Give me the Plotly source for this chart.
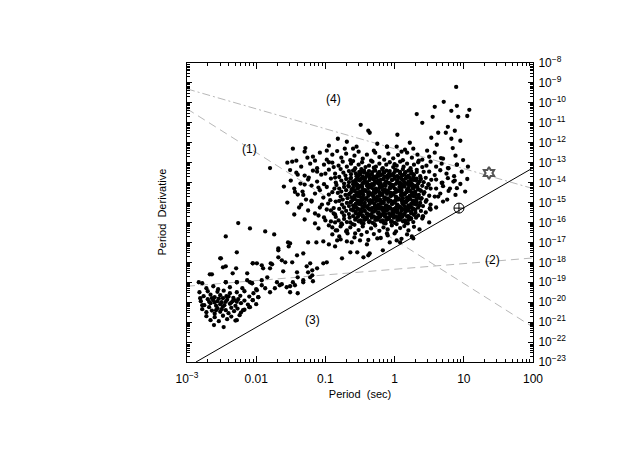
import plotly.graph_objects as go

# (log10 P [s], log10 Pdot)
msp_points = [
    (-2.83, -19.00), (-2.78, -19.05), (-2.72, -19.30), (-2.62, -19.20), (-2.55, -19.35), (-2.44, -19.00),
    (-2.38, -19.25), (-2.28, -19.00), (-2.20, -19.30), (-2.13, -18.90), (-2.06, -19.05), (-2.00, -19.35),
    (-2.82, -19.50), (-2.76, -19.70), (-2.70, -19.45), (-2.66, -19.62), (-2.60, -19.75), (-2.56, -19.48),
    (-2.52, -19.65), (-2.47, -19.42), (-2.43, -19.70), (-2.38, -19.55), (-2.33, -19.78), (-2.28, -19.50),
    (-2.23, -19.68), (-2.17, -19.45), (-2.10, -19.72), (-2.04, -19.55), (-1.97, -19.75),
    (-2.80, -19.95), (-2.75, -20.15), (-2.70, -19.85), (-2.66, -20.05), (-2.62, -19.90), (-2.58, -20.18),
    (-2.54, -19.82), (-2.50, -20.00), (-2.46, -20.15), (-2.42, -19.88), (-2.38, -20.08), (-2.34, -19.95),
    (-2.30, -20.18), (-2.26, -19.85), (-2.22, -20.05), (-2.17, -19.92), (-2.12, -20.12), (-2.05, -19.90),
    (-2.00, -20.10), (-2.68, -19.98), (-2.60, -20.02), (-2.52, -20.10), (-2.44, -19.98), (-2.36, -20.02),
    (-2.28, -19.98), (-2.64, -19.80), (-2.56, -19.95), (-2.48, -19.80), (-2.40, -19.72), (-2.32, -19.88),
    (-2.78, -20.35), (-2.72, -20.50), (-2.68, -20.25), (-2.64, -20.42), (-2.60, -20.58), (-2.56, -20.30),
    (-2.52, -20.48), (-2.48, -20.22), (-2.44, -20.40), (-2.40, -20.55), (-2.36, -20.28), (-2.32, -20.45),
    (-2.27, -20.32), (-2.22, -20.52), (-2.17, -20.38), (-2.10, -20.25), (-2.58, -20.40), (-2.50, -20.35),
    (-2.72, -20.70), (-2.66, -20.90), (-2.60, -20.75), (-2.54, -20.95), (-2.48, -20.68), (-2.42, -20.85),
    (-2.36, -20.72), (-2.30, -20.92), (-2.24, -20.65), (-2.19, -20.40), (-2.09, -20.25), (-2.05, -19.90),
    (-1.97, -19.75), (-2.61, -21.15), (-2.47, -21.25), (-2.28, -20.90), (-2.81, -19.80), (-2.78, -20.15),
]

bridge_points = [
    (-2.26, -16.03), (-2.44, -16.70), (-2.09, -16.30), (-1.87, -16.45), (-1.74, -16.60),
    (-2.28, -17.50), (-2.52, -17.80), (-2.44, -18.20), (-2.29, -18.30), (-2.64, -18.60), (-2.13, -18.55),
    (-2.05, -18.05), (-1.99, -18.05), (-1.90, -18.30), (-1.79, -18.05), (-1.68, -17.40), (-1.68, -17.75),
    (-1.58, -18.00), (-1.54, -17.00), (-1.53, -17.20), (-1.61, -18.45), (-1.41, -18.50), (-1.84, -18.75),
    (-1.92, -18.90), (-1.70, -19.00), (-2.09, -19.00), (-1.63, -19.10), (-1.51, -19.20), (-1.47, -19.00),
    (-1.40, -18.75), (-1.32, -18.90), (-1.27, -18.20), (-1.19, -18.40), (-1.22, -18.75), (-1.18, -18.95),
    (-1.25, -17.00), (-1.13, -17.00), (-1.03, -16.95), (-0.95, -17.10), (-1.03, -18.05), (-0.98, -18.00),
    (-0.86, -17.20), (-0.83, -16.90), (-0.69, -16.95), (-0.76, -17.80), (-0.80, -16.70), (-0.83, -16.40),
    (-0.64, -17.50), (-0.54, -17.50), (-0.45, -17.75), (-0.36, -17.55), (-0.62, -17.00),
    (-2.67, -18.60), (-2.48, -18.25), (-2.34, -18.55), (-2.44, -19.00), (-2.28, -19.00), (-1.92, -19.15),
    (-1.87, -19.30), (-1.80, -19.50), (-1.73, -19.30), (-1.66, -19.15), (-1.56, -19.25), (-1.51, -19.50),
    (-1.44, -19.15), (-1.40, -19.55), (-1.32, -19.00), (-1.25, -18.50), (-1.19, -18.65), (-1.12, -18.30),
    (-1.22, -18.05), (-1.32, -17.55), (-1.51, -17.05), (-1.68, -17.30), (-1.63, -17.90), (-1.48, -18.00),
    (-1.41, -17.65), (-1.80, -18.30), (-1.92, -18.15), (-2.05, -18.05), (-1.77, -18.10), (-2.51, -17.80),
    (-1.99, -19.40), (-2.06, -19.05),
    (-0.86, -16.00), (-0.76, -16.10), (-0.69, -16.40), (-0.64, -16.00), (-0.57, -16.55), (-0.50, -16.90),
    (-0.40, -17.10), (-0.25, -16.80), (-0.17, -17.40), (-0.38, -17.65), (-0.07, -17.00), (0.03, -16.90),
    (0.08, -17.00), (0.27, -16.80), (-0.11, -16.55),
]

normal_points = [
    # sparse top
    (-1.47, -12.30), (-1.29, -12.27), (-0.82, -11.80), (-0.69, -11.95), (-0.49, -11.10), (-0.38, -11.40),
    (-0.36, -11.50), (-0.11, -12.20), (0.03, -12.20), (0.15, -12.35), (-0.95, -12.15), (-0.60, -12.30),
    (-0.25, -12.05), (-1.80, -13.27), (-1.51, -13.37), (-1.44, -14.47), (-1.32, -14.62), (-1.45, -15.60),
    # -12.4 .. -12.9
    (-1.30, -12.45), (-1.18, -12.70), (-1.08, -12.50), (-0.98, -12.85), (-0.90, -12.60), (-0.83, -12.42),
    (-0.77, -12.75), (-0.70, -12.55), (-0.64, -12.88), (-0.58, -12.65), (-0.52, -12.45), (-0.46, -12.80),
    (-0.40, -12.60), (-0.34, -12.90), (-0.28, -12.50), (-0.22, -12.72), (-0.15, -12.85), (-0.09, -12.55),
    (-0.02, -12.78), (0.05, -12.62), (0.12, -12.88), (0.18, -12.50), (0.25, -12.75), (0.33, -12.60),
    (0.40, -12.85), (0.50, -12.70), (0.58, -12.50), (0.70, -12.80), (-1.42, -12.90), (0.88, -12.65),
    # -12.9 .. -13.3
    (-1.48, -12.95), (-1.35, -13.20), (-1.22, -13.05), (-1.12, -13.28), (-1.02, -13.10), (-0.95, -12.98),
    (-0.88, -13.22), (-0.81, -13.15), (-0.75, -12.95), (-0.69, -13.20), (-0.63, -13.05), (-0.57, -13.28),
    (-0.52, -13.10), (-0.47, -12.98), (-0.42, -13.22), (-0.37, -13.15), (-0.32, -12.95), (-0.27, -13.20),
    (-0.22, -13.05), (-0.17, -13.28), (-0.12, -13.10), (-0.07, -12.98), (-0.02, -13.22), (0.03, -13.15),
    (0.08, -12.95), (0.13, -13.20), (0.18, -13.05), (0.23, -13.28), (0.28, -13.10), (0.34, -12.98),
    (0.40, -13.22), (0.46, -13.15), (0.52, -12.95), (0.60, -13.20), (0.68, -13.05), (0.78, -13.28),
    (0.90, -13.10), (-0.60, -12.92), (-0.30, -13.25), (0.00, -13.08),
    # -13.3 .. -13.7
    (-1.42, -13.50), (-1.30, -13.65), (-1.18, -13.40), (-1.06, -13.60), (-0.95, -13.35), (-0.86, -13.55),
    (-0.78, -13.32), (-0.74, -13.50), (-0.71, -13.65), (-0.66, -13.42), (-0.63, -13.58), (-0.58, -13.36), (-0.55, -13.68), (-0.51, -13.46),
    (-0.48, -13.32), (-0.44, -13.50), (-0.40, -13.65), (-0.37, -13.42), (-0.33, -13.58), (-0.29, -13.36), (-0.26, -13.68), (-0.22, -13.46),
    (-0.18, -13.32), (-0.15, -13.50), (-0.10, -13.65), (-0.07, -13.42), (-0.03, -13.58), (0.01, -13.36), (0.04, -13.68), (0.08, -13.46),
    (0.12, -13.32), (0.15, -13.50), (0.20, -13.65), (0.24, -13.42), (0.27, -13.58), (0.32, -13.36), (0.37, -13.68), (0.42, -13.46),
    (0.50, -13.45), (0.58, -13.62), (0.66, -13.38), (0.75, -13.55), (0.86, -13.68), (0.97, -13.45),
    # -13.7 .. -14.1
    (-1.50, -13.90), (-1.36, -14.05), (-1.24, -13.75), (-1.12, -13.95), (-1.02, -14.08), (-0.92, -13.80), (-0.85, -14.00),
    (-0.80, -13.72), (-0.77, -13.90), (-0.73, -14.05), (-0.70, -13.82), (-0.66, -13.98), (-0.63, -13.76), (-0.60, -14.08), (-0.56, -13.86),
    (-0.53, -13.72), (-0.50, -13.90), (-0.46, -14.05), (-0.43, -13.82), (-0.40, -13.98), (-0.36, -13.76), (-0.33, -14.08), (-0.30, -13.86),
    (-0.26, -13.72), (-0.23, -13.90), (-0.20, -14.05), (-0.16, -13.82), (-0.13, -13.98), (-0.10, -13.76), (-0.06, -14.08), (-0.03, -13.86),
    (0.00, -13.72), (0.04, -13.90), (0.07, -14.05), (0.10, -13.82), (0.14, -13.98), (0.17, -13.76), (0.20, -14.08), (0.24, -13.86),
    (0.27, -13.72), (0.31, -13.90), (0.34, -14.05), (0.38, -13.82), (0.42, -13.98), (0.45, -13.76), (0.49, -14.08), (0.53, -13.86),
    (0.60, -13.85), (0.68, -14.02), (0.77, -13.78), (0.85, -13.95), (0.95, -14.07), (1.05, -13.82),
    # -14.1 .. -14.5
    (-1.45, -14.30), (-1.33, -14.45), (-1.20, -14.15), (-1.08, -14.38), (-0.98, -14.22), (-0.90, -14.48),
    (-0.84, -14.12), (-0.80, -14.30), (-0.77, -14.45), (-0.73, -14.22), (-0.70, -14.38), (-0.67, -14.16), (-0.63, -14.48), (-0.60, -14.26),
    (-0.57, -14.12), (-0.53, -14.30), (-0.50, -14.45), (-0.47, -14.22), (-0.43, -14.38), (-0.40, -14.16), (-0.37, -14.48), (-0.33, -14.26),
    (-0.30, -14.12), (-0.27, -14.30), (-0.23, -14.45), (-0.20, -14.22), (-0.17, -14.38), (-0.13, -14.16), (-0.10, -14.48), (-0.07, -14.26),
    (-0.03, -14.12), (0.00, -14.30), (0.03, -14.45), (0.07, -14.22), (0.10, -14.38), (0.13, -14.16), (0.17, -14.48), (0.20, -14.26),
    (0.23, -14.12), (0.27, -14.30), (0.30, -14.45), (0.33, -14.22), (0.37, -14.38), (0.40, -14.16), (0.43, -14.48), (0.46, -14.26),
    (0.49, -14.12), (0.52, -14.30),
    (0.60, -14.30), (0.70, -14.18), (0.78, -14.42), (0.90, -14.28), (1.02, -14.45),
    # -14.5 .. -14.9
    (-1.40, -14.60), (-1.28, -14.85), (-1.15, -14.55), (-1.03, -14.75), (-0.93, -14.88),
    (-0.82, -14.52), (-0.78, -14.70), (-0.75, -14.85), (-0.71, -14.62), (-0.68, -14.78), (-0.65, -14.56), (-0.61, -14.88), (-0.58, -14.66),
    (-0.55, -14.52), (-0.51, -14.70), (-0.48, -14.85), (-0.45, -14.62), (-0.41, -14.78), (-0.38, -14.56), (-0.35, -14.88), (-0.31, -14.66),
    (-0.28, -14.52), (-0.25, -14.70), (-0.21, -14.85), (-0.18, -14.62), (-0.15, -14.78), (-0.11, -14.56), (-0.08, -14.88), (-0.05, -14.66),
    (-0.01, -14.52), (0.02, -14.70), (0.05, -14.85), (0.09, -14.62), (0.12, -14.78), (0.15, -14.56), (0.19, -14.88), (0.22, -14.66),
    (0.25, -14.52), (0.29, -14.70), (0.32, -14.85), (0.35, -14.62), (0.39, -14.78), (0.42, -14.56), (0.46, -14.88), (0.50, -14.66),
    (0.58, -14.70), (0.66, -14.55), (0.76, -14.85), (0.88, -14.62),
    # -14.9 .. -15.3
    (-1.35, -15.10), (-1.20, -14.95), (-1.08, -15.25), (-0.96, -15.05), (-0.88, -15.28),
    (-0.80, -14.92), (-0.76, -15.10), (-0.73, -15.25), (-0.69, -15.02), (-0.66, -15.18), (-0.63, -14.96), (-0.59, -15.28), (-0.56, -15.06),
    (-0.53, -14.92), (-0.49, -15.10), (-0.46, -15.25), (-0.43, -15.02), (-0.39, -15.18), (-0.36, -14.96), (-0.33, -15.28), (-0.29, -15.06),
    (-0.26, -14.92), (-0.23, -15.10), (-0.19, -15.25), (-0.16, -15.02), (-0.13, -15.18), (-0.09, -14.96), (-0.06, -15.28), (-0.03, -15.06),
    (0.01, -14.92), (0.04, -15.10), (0.07, -15.25), (0.11, -15.02), (0.14, -15.18), (0.17, -14.96), (0.21, -15.28), (0.24, -15.06),
    (0.27, -14.92), (0.31, -15.10), (0.34, -15.25), (0.37, -15.02), (0.41, -15.18), (0.45, -14.96),
    (0.52, -15.10), (0.60, -15.25), (0.70, -14.95),
    # -15.3 .. -15.7
    (-1.25, -15.40), (-1.10, -15.65), (-0.98, -15.35), (-0.88, -15.55),
    (-0.80, -15.32), (-0.76, -15.50), (-0.73, -15.65), (-0.70, -15.42), (-0.66, -15.58), (-0.63, -15.36), (-0.60, -15.68), (-0.56, -15.46),
    (-0.53, -15.32), (-0.50, -15.50), (-0.46, -15.65), (-0.43, -15.42), (-0.40, -15.58), (-0.36, -15.36), (-0.33, -15.68), (-0.30, -15.46),
    (-0.26, -15.32), (-0.23, -15.50), (-0.20, -15.65), (-0.16, -15.42), (-0.13, -15.58), (-0.10, -15.36), (-0.06, -15.68), (-0.03, -15.46),
    (0.00, -15.32), (0.04, -15.50), (0.07, -15.65), (0.10, -15.42), (0.14, -15.58), (0.17, -15.36), (0.20, -15.68), (0.24, -15.46),
    (0.27, -15.32), (0.30, -15.50), (0.34, -15.65), (0.38, -15.42),
    (0.45, -15.50), (0.52, -15.35), (0.51, -15.30), (0.41, -15.70),
    # -15.7 .. -16.1
    (-1.30, -15.85), (-1.15, -16.05), (-1.02, -15.75), (-0.92, -15.95),
    (-0.85, -15.72), (-0.81, -15.90), (-0.77, -16.05), (-0.73, -15.82), (-0.69, -15.98), (-0.65, -15.76), (-0.61, -16.08), (-0.57, -15.86),
    (-0.53, -15.72), (-0.49, -15.90), (-0.45, -16.05), (-0.41, -15.82), (-0.37, -15.98), (-0.33, -15.76), (-0.29, -16.08), (-0.25, -15.86),
    (-0.21, -15.72), (-0.17, -15.90), (-0.13, -16.05), (-0.09, -15.82), (-0.05, -15.98), (-0.01, -15.76), (0.03, -16.08), (0.07, -15.86),
    (0.11, -15.72), (0.15, -15.90), (0.19, -16.05), (0.23, -15.82), (0.27, -15.98), (0.31, -15.76),
    (0.40, -15.80), (0.50, -16.00),
    # -16.1 .. -16.5
    (-1.10, -16.30), (-0.95, -16.15), (-0.85, -16.40), (-0.78, -16.20), (-0.70, -16.45), (-0.64, -16.25),
    (-0.58, -16.12), (-0.52, -16.38), (-0.46, -16.20), (-0.40, -16.48), (-0.34, -16.30), (-0.28, -16.15),
    (-0.22, -16.42), (-0.16, -16.25), (-0.10, -16.35), (-0.04, -16.15), (0.02, -16.45), (0.08, -16.28),
    (0.14, -16.18), (0.20, -16.40), (0.28, -16.22), (0.36, -16.35),
    # -16.5 .. -16.9
    (-0.90, -16.60), (-0.78, -16.85), (-0.68, -16.55), (-0.58, -16.75), (-0.48, -16.62), (-0.38, -16.88),
    (-0.30, -16.58), (-0.20, -16.78), (-0.10, -16.65), (0.00, -16.55), (0.10, -16.82), (0.18, -16.60),
    (0.25, -16.70),
    # left-hand fringe of the cluster
    (-1.55, -13.00), (-1.40, -13.60), (-1.25, -13.85), (-1.15, -12.90), (-1.10, -14.25), (-1.00, -13.55),
    (-0.95, -14.60), (-0.90, -13.00), (-1.20, -14.90), (-1.05, -15.10), (-0.92, -15.40), (-1.30, -14.10),
    (-1.38, -15.25), (-1.00, -15.90), (-0.90, -16.25), (-1.15, -15.55), (-1.60, -14.20), (-1.55, -15.00),
    (-0.98, -12.40), (-1.12, -13.45), (-0.86, -13.75), (-0.87, -14.30), (-0.85, -14.95), (-0.86, -15.60),
    (-1.26, -12.75), (-0.72, -12.30), (-0.55, -12.20), (-0.30, -12.40), (0.10, -12.45), (0.35, -12.90),
]

# densest part of the cluster (solid black in the reference)
core_points = [
    (-0.60, -13.40), (-0.56, -13.54), (-0.52, -13.62), (-0.48, -13.47), (-0.44, -13.40), (-0.40, -13.54),
    (-0.36, -13.62), (-0.32, -13.47), (-0.28, -13.40), (-0.24, -13.54), (-0.20, -13.62), (-0.16, -13.47),
    (-0.12, -13.40), (-0.08, -13.54), (-0.04, -13.62), (0.00, -13.47), (0.04, -13.40), (0.08, -13.54),
    (0.12, -13.62), (0.16, -13.47), (0.20, -13.40), (0.24, -13.54), (0.28, -13.62), (0.32, -13.47),
    (-0.64, -13.80), (-0.60, -13.94), (-0.56, -14.02), (-0.52, -13.87), (-0.48, -13.80), (-0.44, -13.94),
    (-0.40, -14.02), (-0.36, -13.87), (-0.32, -13.80), (-0.28, -13.94), (-0.24, -14.02), (-0.20, -13.87),
    (-0.16, -13.80), (-0.12, -13.94), (-0.08, -14.02), (-0.04, -13.87), (0.00, -13.80), (0.04, -13.94),
    (0.08, -14.02), (0.12, -13.87), (0.16, -13.80), (0.20, -13.94), (0.24, -14.02), (0.28, -13.87),
    (0.32, -13.80), (0.36, -13.94),
    (-0.66, -14.20), (-0.62, -14.34), (-0.58, -14.42), (-0.54, -14.27), (-0.50, -14.20), (-0.46, -14.34),
    (-0.42, -14.42), (-0.38, -14.27), (-0.34, -14.20), (-0.30, -14.34), (-0.26, -14.42), (-0.22, -14.27),
    (-0.18, -14.20), (-0.14, -14.34), (-0.10, -14.42), (-0.06, -14.27), (-0.02, -14.20), (0.02, -14.34),
    (0.06, -14.42), (0.10, -14.27), (0.14, -14.20), (0.18, -14.34), (0.22, -14.42), (0.26, -14.27),
    (0.30, -14.20), (0.34, -14.34), (0.38, -14.42),
    (-0.66, -14.60), (-0.62, -14.74), (-0.58, -14.82), (-0.54, -14.67), (-0.50, -14.60), (-0.46, -14.74),
    (-0.42, -14.82), (-0.38, -14.67), (-0.34, -14.60), (-0.30, -14.74), (-0.26, -14.82), (-0.22, -14.67),
    (-0.18, -14.60), (-0.14, -14.74), (-0.10, -14.82), (-0.06, -14.67), (-0.02, -14.60), (0.02, -14.74),
    (0.06, -14.82), (0.10, -14.67), (0.14, -14.60), (0.18, -14.74), (0.22, -14.82), (0.26, -14.67),
    (0.30, -14.60), (0.34, -14.74), (0.38, -14.82),
    (-0.64, -15.00), (-0.60, -15.14), (-0.56, -15.22), (-0.52, -15.07), (-0.48, -15.00), (-0.44, -15.14),
    (-0.40, -15.22), (-0.36, -15.07), (-0.32, -15.00), (-0.28, -15.14), (-0.24, -15.22), (-0.20, -15.07),
    (-0.16, -15.00), (-0.12, -15.14), (-0.08, -15.22), (-0.04, -15.07), (0.00, -15.00), (0.04, -15.14),
    (0.08, -15.22), (0.12, -15.07), (0.16, -15.00), (0.20, -15.14), (0.24, -15.22), (0.28, -15.07),
    (0.32, -15.00), (0.36, -15.14),
    (-0.60, -15.40), (-0.56, -15.54), (-0.52, -15.62), (-0.48, -15.47), (-0.44, -15.40), (-0.40, -15.54),
    (-0.36, -15.62), (-0.32, -15.47), (-0.28, -15.40), (-0.24, -15.54), (-0.20, -15.62), (-0.16, -15.47),
    (-0.12, -15.40), (-0.08, -15.54), (-0.04, -15.62), (0.00, -15.47), (0.04, -15.40), (0.08, -15.54),
    (0.12, -15.62), (0.16, -15.47), (0.20, -15.40), (0.24, -15.54), (0.28, -15.62),
    (-0.56, -15.80), (-0.52, -15.94), (-0.48, -16.02), (-0.44, -15.87), (-0.40, -15.80), (-0.36, -15.94),
    (-0.32, -16.02), (-0.28, -15.87), (-0.24, -15.80), (-0.20, -15.94), (-0.16, -16.02), (-0.12, -15.87),
    (-0.08, -15.80), (-0.04, -15.94), (0.00, -16.02), (0.04, -15.87), (0.08, -15.80), (0.12, -15.94),
    (0.16, -16.02), (0.20, -15.87), (0.24, -15.80),
    # innermost fill
    (-0.50, -13.60), (-0.46, -13.70), (-0.42, -13.76), (-0.38, -13.66), (-0.34, -13.60), (-0.30, -13.70),
    (-0.26, -13.76), (-0.22, -13.66), (-0.18, -13.60), (-0.14, -13.70), (-0.10, -13.76), (-0.06, -13.66),
    (-0.02, -13.60), (0.02, -13.70), (0.06, -13.76), (0.10, -13.66), (0.14, -13.60), (0.18, -13.70),
    (0.22, -13.76),
    (-0.58, -14.00), (-0.54, -14.10), (-0.50, -14.16), (-0.46, -14.06), (-0.42, -14.00), (-0.38, -14.10),
    (-0.34, -14.16), (-0.30, -14.06), (-0.26, -14.00), (-0.22, -14.10), (-0.18, -14.16), (-0.14, -14.06),
    (-0.10, -14.00), (-0.06, -14.10), (-0.02, -14.16), (0.02, -14.06), (0.06, -14.00), (0.10, -14.10),
    (0.14, -14.16), (0.18, -14.06), (0.22, -14.00), (0.26, -14.10), (0.30, -14.16),
    (-0.58, -14.40), (-0.54, -14.50), (-0.50, -14.56), (-0.46, -14.46), (-0.42, -14.40), (-0.38, -14.50),
    (-0.34, -14.56), (-0.30, -14.46), (-0.26, -14.40), (-0.22, -14.50), (-0.18, -14.56), (-0.14, -14.46),
    (-0.10, -14.40), (-0.06, -14.50), (-0.02, -14.56), (0.02, -14.46), (0.06, -14.40), (0.10, -14.50),
    (0.14, -14.56), (0.18, -14.46), (0.22, -14.40), (0.26, -14.50), (0.30, -14.56),
    (-0.58, -14.80), (-0.54, -14.90), (-0.50, -14.96), (-0.46, -14.86), (-0.42, -14.80), (-0.38, -14.90),
    (-0.34, -14.96), (-0.30, -14.86), (-0.26, -14.80), (-0.22, -14.90), (-0.18, -14.96), (-0.14, -14.86),
    (-0.10, -14.80), (-0.06, -14.90), (-0.02, -14.96), (0.02, -14.86), (0.06, -14.80), (0.10, -14.90),
    (0.14, -14.96), (0.18, -14.86), (0.22, -14.80), (0.26, -14.90), (0.30, -14.96),
    (-0.58, -15.20), (-0.54, -15.30), (-0.50, -15.36), (-0.46, -15.26), (-0.42, -15.20), (-0.38, -15.30),
    (-0.34, -15.36), (-0.30, -15.26), (-0.26, -15.20), (-0.22, -15.30), (-0.18, -15.36), (-0.14, -15.26),
    (-0.10, -15.20), (-0.06, -15.30), (-0.02, -15.36), (0.02, -15.26), (0.06, -15.20), (0.10, -15.30),
    (0.14, -15.36), (0.18, -15.26), (0.22, -15.20), (0.26, -15.30), (0.30, -15.36),
    (-0.50, -15.60), (-0.46, -15.70), (-0.42, -15.76), (-0.38, -15.66), (-0.34, -15.60), (-0.30, -15.70),
    (-0.26, -15.76), (-0.22, -15.66), (-0.18, -15.60), (-0.14, -15.70), (-0.10, -15.76), (-0.06, -15.66),
    (-0.02, -15.60), (0.02, -15.70), (0.06, -15.76), (0.10, -15.66), (0.14, -15.60), (0.18, -15.70),
    (0.22, -15.76),
]

high_b_points = [
    (0.89, -9.20), (0.71, -9.95), (0.58, -10.20), (0.90, -10.15), (0.82, -10.40), (1.08, -10.35),
    (0.32, -10.56), (0.55, -10.70), (0.92, -10.70), (1.05, -10.66), (0.40, -11.00), (0.77, -11.20),
    (0.63, -11.50), (0.74, -11.50), (0.87, -11.40), (0.04, -11.60), (0.53, -11.75), (0.82, -11.80),
    (0.95, -11.90), (0.22, -12.00), (0.61, -12.10), (0.84, -12.27), (0.27, -12.30), (0.47, -12.40),
    (0.99, -12.87), (1.06, -13.20), (0.67, -12.77), (0.90, -13.10), (0.77, -13.27), (-0.11, -12.20),
    (0.69, -14.00), (0.63, -14.70), (0.80, -14.30), (0.87, -13.90), (0.51, -15.30), (0.41, -15.70),
]

# reference lines: log10 P and log10 Pdot at the two ends
line1_logp, line1_logpdot = [-3.0, 2.0], [-10.3, -21.25]
line2_logp, line2_logpdot = [-3.0, 2.0], [-19.2, -17.78]
line3_logp, line3_logpdot = [-2.87, 2.0], [-23.0, -13.26]
line4_logp, line4_logpdot = [-3.0, 2.0], [-9.3, -14.3]

special_sun = (0.93, -15.28)
special_star = (1.364, -13.52)

labels = ["(1)", "(2)", "(3)", "(4)"]
label_logp = [-2.1, 1.42, -1.19, -0.89]
label_logpdot = [-12.3, -17.9, -20.9, -9.83]

x_tick_logs = [-3, -2, -1, 0, 1, 2]
x_tick_text = ["10<sup>−3</sup>", "0.01", "0.1", "1", "10", "100"]
y_tick_logs = list(range(-23, -7))


def unlog(vals):
    return [10 ** v for v in vals]


fig = go.Figure()

gray = "#b8b8b8"
for lp, ld, dash, col in [
    (line1_logp, line1_logpdot, "8px,5px", gray),
    (line2_logp, line2_logpdot, "8px,5px", gray),
    (line4_logp, line4_logpdot, "8px,3px,2px,3px", gray),
    (line3_logp, line3_logpdot, "solid", "black"),
]:
    fig.add_trace(go.Scatter(x=unlog(lp), y=unlog(ld), mode="lines",
                             line=dict(color=col, width=1, dash=dash), hoverinfo="skip"))

all_points = msp_points + bridge_points + normal_points + core_points + high_b_points
fig.add_trace(go.Scatter(
    x=unlog([p[0] for p in all_points]), y=unlog([p[1] for p in all_points]),
    mode="markers", marker=dict(color="black", size=4.3, line=dict(width=0))))

fig.add_trace(go.Scatter(x=[10 ** special_sun[0]], y=[10 ** special_sun[1]], mode="markers",
                         marker=dict(symbol="circle-cross-open", size=10, color="black",
                                     line=dict(width=1, color="black"))))
fig.add_trace(go.Scatter(x=[10 ** special_star[0]], y=[10 ** special_star[1]], mode="markers",
                         marker=dict(symbol="hexagram-open", size=9, color="#555555",
                                     line=dict(width=2, color="#555555"))))

for t, lp, ld in zip(labels, label_logp, label_logpdot):
    fig.add_annotation(x=lp, y=ld, text=t, showarrow=False, font=dict(size=12, color="black"))

fig.add_annotation(xref="paper", yref="paper", x=0, y=0.5, xshift=-26, xanchor="center",
                   yanchor="middle", text="Period  Derivative", textangle=-90, showarrow=False,
                   font=dict(size=11, color="black"))

minor_vals = [m * 10 ** k for k in range(-3, 2) for m in range(2, 10)]
minor_y = [m * 10 ** k for k in range(-23, -8) for m in range(2, 10)]

fig.update_xaxes(type="log", range=[-3, 2], tickvals=unlog(x_tick_logs), ticktext=x_tick_text,
                 ticks="inside", ticklen=6, tickcolor="black", showline=True, linecolor="black",
                 linewidth=1, mirror="ticks", showgrid=False, zeroline=False, ticklabelstandoff=6,
                 minor=dict(tickmode="array", tickvals=minor_vals, ticks="inside", ticklen=3,
                            tickcolor="black", showgrid=False),
                 title=dict(text="Period  (sec)", font=dict(size=11, color="black"), standoff=4),
                 tickfont=dict(size=12, color="black"))
fig.update_yaxes(type="log", range=[-23, -8], side="right",
                 tickvals=unlog(y_tick_logs), ticktext=["10<sup>−%d</sup>" % (-v) for v in y_tick_logs],
                 ticks="inside", ticklen=5, tickcolor="black", showline=True, linecolor="black",
                 linewidth=1, mirror="ticks", showgrid=False, zeroline=False, ticklabelstandoff=2,
                 minor=dict(tickmode="array", tickvals=minor_y, ticks="inside", ticklen=3,
                            tickcolor="black", showgrid=False),
                 tickfont=dict(size=12, color="black"))

# the page body adds an 8px offset, so margins are trimmed to keep the plot box in place
fig.update_layout(width=643, height=455, margin=dict(l=179, r=118, t=55, b=101),
                  paper_bgcolor="white", plot_bgcolor="white", showlegend=False,
                  font=dict(family="Liberation Sans, Arial, sans-serif", color="black"))

fig.write_html("out.html")
